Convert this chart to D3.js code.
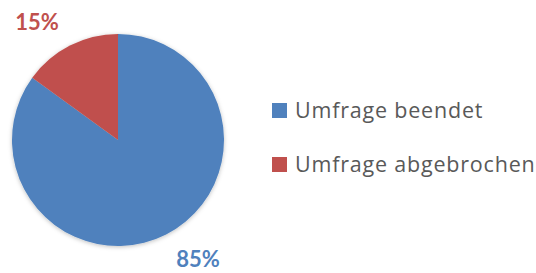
<!DOCTYPE html>
<meta charset="utf-8">
<style>
body { margin: 0; background: #fff; }
text { font-family: Lato, "Open Sans", sans-serif; }
</style>
<body>
<svg width="536" height="273"></svg>
<script src="https://cdn.jsdelivr.net/npm/d3@7"></script>
<script>
var categories = ["Umfrage beendet", "Umfrage abgebrochen"];
var values = [85, 15];
var labels = ["85%", "15%"];
var colors = ["#4F81BD", "#C0504D"];

var svg = d3.select("svg");
var cx = 118, cy = 140, r = 106;

var defs = svg.append("defs");
var f = defs.append("filter").attr("id", "shadow")
  .attr("x", "-20%").attr("y", "-20%").attr("width", "140%").attr("height", "140%");
f.append("feDropShadow").attr("dx", 0).attr("dy", 1).attr("stdDeviation", 2)
  .attr("flood-color", "#000").attr("flood-opacity", 0.25);

var pie = d3.pie().sort(null).value(function(d) { return d; });
var arcs = pie(values);
var arc = d3.arc().innerRadius(0).outerRadius(r);

var g = svg.append("g").attr("transform", "translate(" + cx + "," + cy + ")");
g.append("g").attr("filter", "url(#shadow)")
  .selectAll("path").data(arcs).enter().append("path")
  .attr("d", arc)
  .attr("fill", function(d, i) { return colors[i]; });

// data labels outside the pie
var labelPos = [[80, 127], [-81, -110]];
g.selectAll(".lbl").data(arcs).enter().append("text")
  .attr("class", "lbl")
  .attr("x", function(d, i) { return labelPos[i][0]; })
  .attr("y", function(d, i) { return labelPos[i][1]; })
  .attr("text-anchor", "middle")
  .attr("font-size", 22)
  .attr("font-weight", "bold")
  .attr("fill", function(d, i) { return colors[i]; })
  .text(function(d, i) { return labels[i]; });

// legend
var legend = svg.append("g").attr("transform", "translate(272,103)");
var item = legend.selectAll("g").data(categories).enter().append("g")
  .attr("transform", function(d, i) { return "translate(0," + (i * 54) + ")"; });
item.append("rect").attr("width", 15).attr("height", 15)
  .attr("fill", function(d, i) { return colors[i]; });
item.append("text").attr("x", 23).attr("y", 15)
  .style("font-family", "'Open Sans', sans-serif")
  .style("letter-spacing", "0.8px")
  .attr("font-size", 21.5).attr("fill", "#595959")
  .text(function(d) { return d; });
</script>
</body>
